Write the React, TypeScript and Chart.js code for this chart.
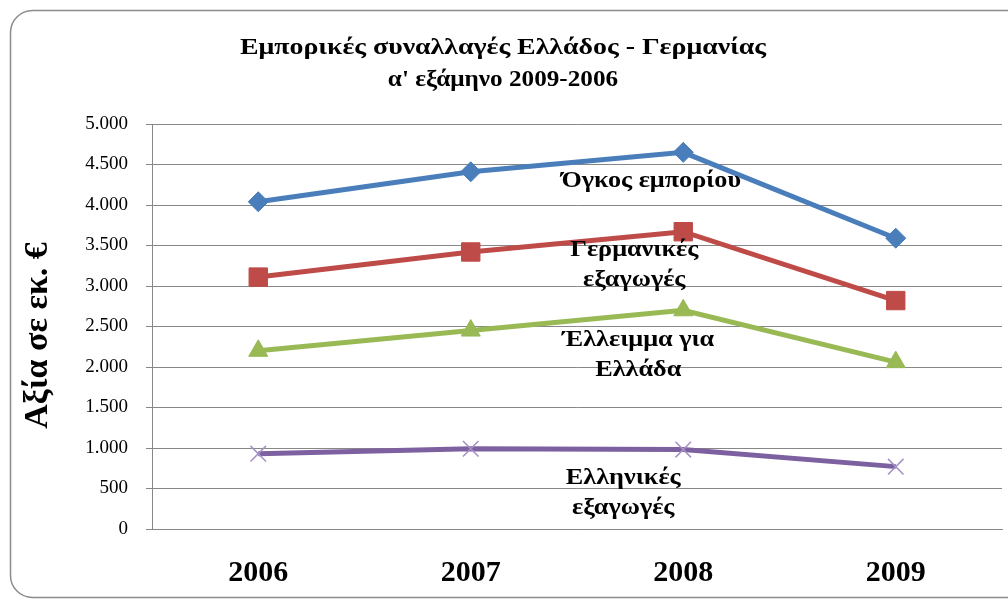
import React, { useEffect, useRef } from "react";
import { Chart, registerables } from "chart.js";

Chart.register(...registerables);

const categories = ["2006", "2007", "2008", "2009"];
const tradeVolume = [4040, 4410, 4650, 3590];
const germanExports = [3110, 3420, 3670, 2820];
const greekDeficit = [2200, 2450, 2700, 2060];
const greekExports = [930, 990, 980, 770];

const titleLines = ["Εμπορικές συναλλαγές Ελλάδος - Γερμανίας", "α' εξάμηνο 2009-2006"];
const yAxisTitle = "Αξία σε εκ. €";
const seriesNames = ["Όγκος εμπορίου", "Γερμανικές εξαγωγές", "Έλλειμμα για Ελλάδα", "Ελληνικές εξαγωγές"];
const labelLines = [["Όγκος εμπορίου"], ["Γερμανικές", "εξαγωγές"], ["Έλλειμμα για", "Ελλάδα"], ["Ελληνικές", "εξαγωγές"]];
const labelAnchorValues = [4290, 3440, 2330, 630];
const labelShiftX = [-32, -49, -45, -60];
const yMin = 0;
const yMax = 5000;
const yStep = 500;

const FONT = "'Liberation Serif', 'Times New Roman', serif";
const TITLE_SIZE = 24;
const TITLE_LH = 1.33;
const TITLE_PAD_TOP = 32;
const TEXT_STRETCH = 1.14;
const TITLE_STRETCH = [1.16, 1.05];
const YTITLE_SIZE = 34;

const formatThousands = (v: number) => String(v).replace(/\B(?=(\d{3})+(?!\d))/g, ".");

const drawStretched = (ctx: CanvasRenderingContext2D, text: string, x: number, y: number, sx: number, rot = 0) => {
  ctx.save();
  ctx.translate(x, y);
  if (rot) ctx.rotate(rot);
  ctx.scale(sx, 1);
  ctx.fillText(text, 0, 0);
  ctx.restore();
};

const framePlugin = {
  id: "frame",
  beforeDraw(chart: any) {
    const ctx = chart.ctx;
    ctx.save();
    ctx.fillStyle = "#ffffff";
    ctx.fillRect(0, 0, chart.width, chart.height);
    ctx.beginPath();
    ctx.roundRect(10.5, 10.5, chart.width + 10, chart.height - 15, 22);
    ctx.strokeStyle = "#8c8c8c";
    ctx.lineWidth = 1.5;
    ctx.stroke();
    ctx.restore();
  },
};

const textPlugin = {
  id: "stretchedText",
  afterDatasetsDraw(chart: any) {
    const ctx = chart.ctx;
    const xs = chart.scales.x;
    const ys = chart.scales.y;
    ctx.save();
    ctx.fillStyle = "#000000";
    ctx.textAlign = "center";
    ctx.textBaseline = "middle";
    // title
    const tb = chart.titleBlock;
    ctx.font = "bold " + TITLE_SIZE + "px " + FONT;
    const cx = (tb.left + tb.right) / 2 - 4;
    titleLines.forEach((line, i) => {
      const y = tb.top + TITLE_PAD_TOP + TITLE_SIZE * TITLE_LH * (i + 0.5);
      drawStretched(ctx, line, cx, y, TITLE_STRETCH[i]);
    });
    // y axis title
    ctx.font = "bold " + YTITLE_SIZE + "px " + FONT;
    drawStretched(ctx, yAxisTitle, ys.left + 26, (ys.top + ys.bottom) / 2 + 9, 1, -Math.PI / 2);
    // series labels
    labelLines.forEach((lines, i) => {
      const x = xs.getPixelForValue(2) + labelShiftX[i];
      const y0 = ys.getPixelForValue(labelAnchorValues[i]);
      ctx.font = "bold 23px " + FONT;
      lines.forEach((line, j) => {
        drawStretched(ctx, line, x, y0 + j * 30, TEXT_STRETCH);
      });
    });
    ctx.restore();
  },
};

export default function App() {
  const ref = useRef<HTMLCanvasElement | null>(null);

  useEffect(() => {
    document.body.style.margin = "0";
    if (!ref.current) return;
    const mk = (label: string, data: number[], color: string, style: string, radius: number, pointColor?: string) => ({
      label,
      data,
      borderColor: color,
      backgroundColor: pointColor || color,
      pointBackgroundColor: pointColor || color,
      pointBorderColor: pointColor || color,
      borderWidth: 5,
      pointStyle: style,
      pointRadius: radius,
      pointBorderWidth: 1,
      tension: 0,
    });
    const chart = new Chart(ref.current, {
      type: "line",
      data: {
        labels: categories,
        datasets: [
          mk(seriesNames[0], tradeVolume, "#4A7EBB", "rectRot", 10),
          mk(seriesNames[1], germanExports, "#BE4B48", "rect", 13),
          mk(seriesNames[2], greekDeficit, "#98B954", "triangle", 11),
          { ...mk(seriesNames[3], greekExports, "#7D60A0", "crossRot", 11, "#A590C6"), pointBorderWidth: 1.5 },
        ],
      },
      options: {
        animation: false,
        responsive: false,
        layout: { autoPadding: false, padding: { left: 12, right: 6, top: 0, bottom: 0 } },
        plugins: {
          legend: { display: false },
          tooltip: { enabled: false },
          title: {
            display: true,
            text: titleLines,
            color: "rgba(0,0,0,0)",
            font: { family: FONT, size: TITLE_SIZE, weight: "bold", lineHeight: TITLE_LH },
            padding: { top: TITLE_PAD_TOP, bottom: 124 - TITLE_PAD_TOP - 2 * TITLE_SIZE * TITLE_LH },
          },
        },
        scales: {
          x: {
            offset: true,
            grid: { display: false, drawTicks: false },
            border: { display: true, color: "#878787", width: 1 },
            ticks: { color: "#000000", font: { family: FONT, size: 30, weight: "bold" }, padding: 26 },
            afterFit: (s: any) => {
              s.height = 73;
              s.paddingLeft = 0;
              s.paddingRight = 0;
            },
          },
          y: {
            min: yMin,
            max: yMax,
            grid: { color: "#878787", lineWidth: 1, tickLength: 6 },
            border: { display: true, color: "#878787", width: 1 },
            ticks: {
              stepSize: yStep,
              color: "#000000",
              font: { family: FONT, size: 19 },
              padding: 18,
              callback: (v: any) => formatThousands(Number(v)),
            },
            title: {
              display: true,
              text: yAxisTitle,
              color: "rgba(0,0,0,0)",
              font: { family: FONT, size: YTITLE_SIZE, weight: "bold" },
              padding: { top: 6, bottom: 0 },
            },
            afterFit: (s: any) => {
              s.width = 140;
            },
          },
        },
      },
      plugins: [framePlugin, textPlugin],
    } as any);
    return () => chart.destroy();
  }, []);

  return <canvas ref={ref} width={1008} height={602} style={{ display: "block" }} />;
}
